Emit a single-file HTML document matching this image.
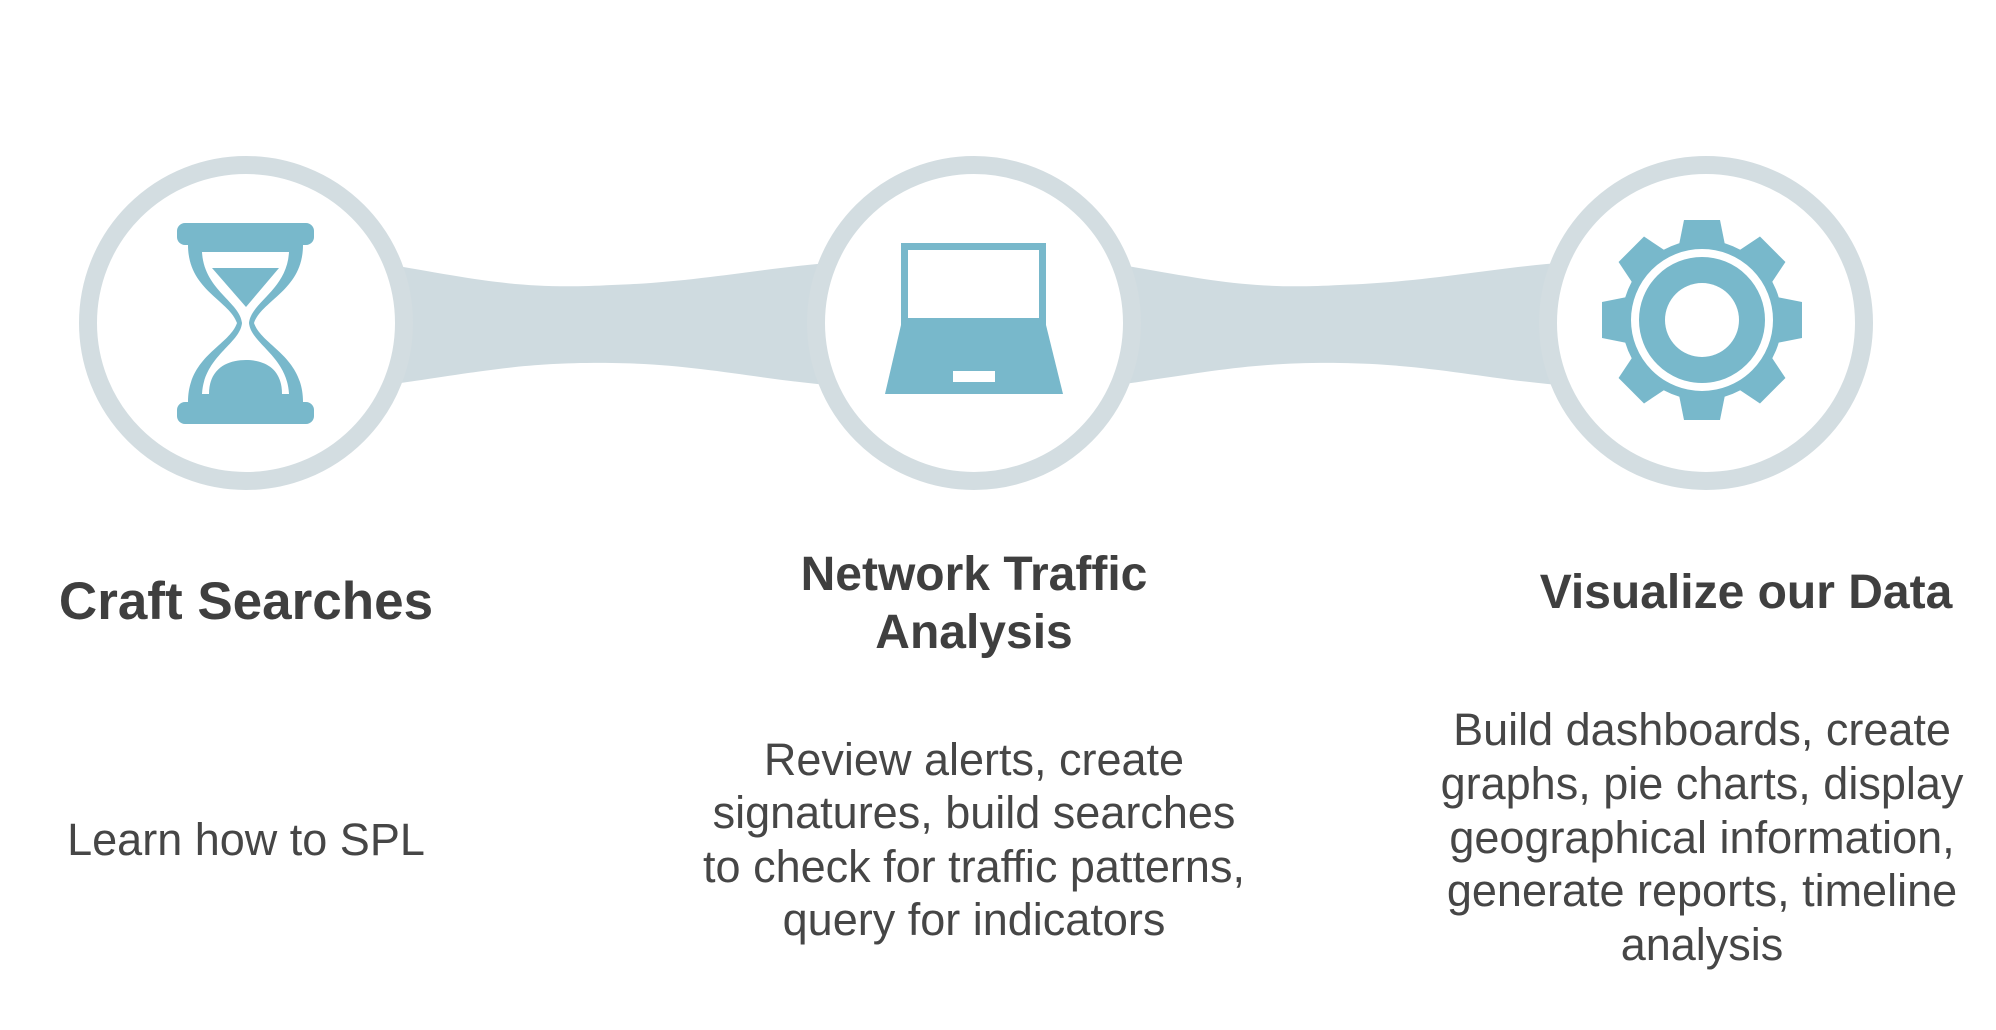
<!DOCTYPE html>
<html><head><meta charset="utf-8"><style>
html,body{margin:0;padding:0;background:#fff;}
svg{display:block;}
text{font-family:"Liberation Sans",Arial,sans-serif;}
.h{font-weight:bold;fill:#3f3f3f;font-size:48px;}
.b{fill:#464646;font-size:45px;}
</style></head><body>
<svg width="1996" height="1030" viewBox="0 0 1996 1030" xmlns="http://www.w3.org/2000/svg">
<path d="M380,263 C480,280 520,290 612,285 C700,282 760,268 840,262 L840,386 C760,380 700,364 612,363 C520,362 480,372 380,386 Z" fill="#cfdbe0"/>
<path d="M1110,263 C1210,280 1250,290 1340,285 C1430,282 1490,268 1570,262 L1570,386 C1490,380 1430,364 1340,363 C1250,362 1210,372 1110,386 Z" fill="#cfdbe0"/>
<g fill="#fff" stroke="#d3dde1" stroke-width="18">
<circle cx="246" cy="323" r="158"/>
<circle cx="974" cy="323" r="158"/>
<circle cx="1706" cy="323" r="158"/>
</g>
<g fill="#78b8cb">
<rect x="177" y="223" width="137" height="22" rx="8"/>
<rect x="177" y="402" width="137" height="22" rx="8"/>
<path d="M188,245 L303,245 C303,290 262,300 254,323 C262,346 303,356 303,402 L188,402 C188,356 229,346 237,323 C229,300 188,290 188,245 Z M202,252 C204,290 240,302 242,323 C240,344 204,356 202,394 L289,394 C287,356 251,344 249,323 C251,302 287,290 289,252 Z" fill-rule="evenodd"/>
<path d="M212,268 L279,268 L246,307 Z"/>
<path d="M209,394 C209,368 228,360 246,360 C264,360 282,368 282,394 Z"/>
</g>
<g fill="#78b8cb">
<path d="M901,243 L1046,243 L1046,325 L901,325 Z M908,250 L908,318 L1039,318 L1039,250 Z" fill-rule="evenodd"/>
<path d="M901,325 L1046,325 L1063,394 L885,394 Z"/>
<rect x="953" y="371" width="42" height="11" fill="#fff"/>
</g>
<g transform="translate(1702,320)" fill="#78b8cb">
<g id="t"><path d="M-18,-100 L18,-100 L24,-70 L-24,-70 Z"/></g>
<use href="#t" transform="rotate(45)"/><use href="#t" transform="rotate(90)"/><use href="#t" transform="rotate(135)"/>
<use href="#t" transform="rotate(180)"/><use href="#t" transform="rotate(225)"/><use href="#t" transform="rotate(270)"/><use href="#t" transform="rotate(315)"/>
<circle r="80"/>
<circle r="67" fill="none" stroke="#fff" stroke-width="8"/>
<circle r="37" fill="#fff"/>
</g>
<text class="h" x="246" y="619" text-anchor="middle" style="font-size:53px">Craft Searches</text>
<text class="h" x="974" y="590" text-anchor="middle">Network Traffic</text>
<text class="h" x="974" y="648" text-anchor="middle">Analysis</text>
<text class="h" x="1746" y="608" text-anchor="middle">Visualize our Data</text>
<text class="b" x="246" y="855" text-anchor="middle">Learn how to SPL</text>
<text class="b" x="974" y="775" text-anchor="middle">Review alerts, create</text>
<text class="b" x="974" y="828" text-anchor="middle">signatures, build searches</text>
<text class="b" x="974" y="882" text-anchor="middle">to check for traffic patterns,</text>
<text class="b" x="974" y="935" text-anchor="middle">query for indicators</text>
<text class="b" x="1702" y="745" text-anchor="middle">Build dashboards, create</text>
<text class="b" x="1702" y="799" text-anchor="middle">graphs, pie charts, display</text>
<text class="b" x="1702" y="853" text-anchor="middle">geographical information,</text>
<text class="b" x="1702" y="906" text-anchor="middle">generate reports, timeline</text>
<text class="b" x="1702" y="960" text-anchor="middle">analysis</text>
</svg>
</body></html>
